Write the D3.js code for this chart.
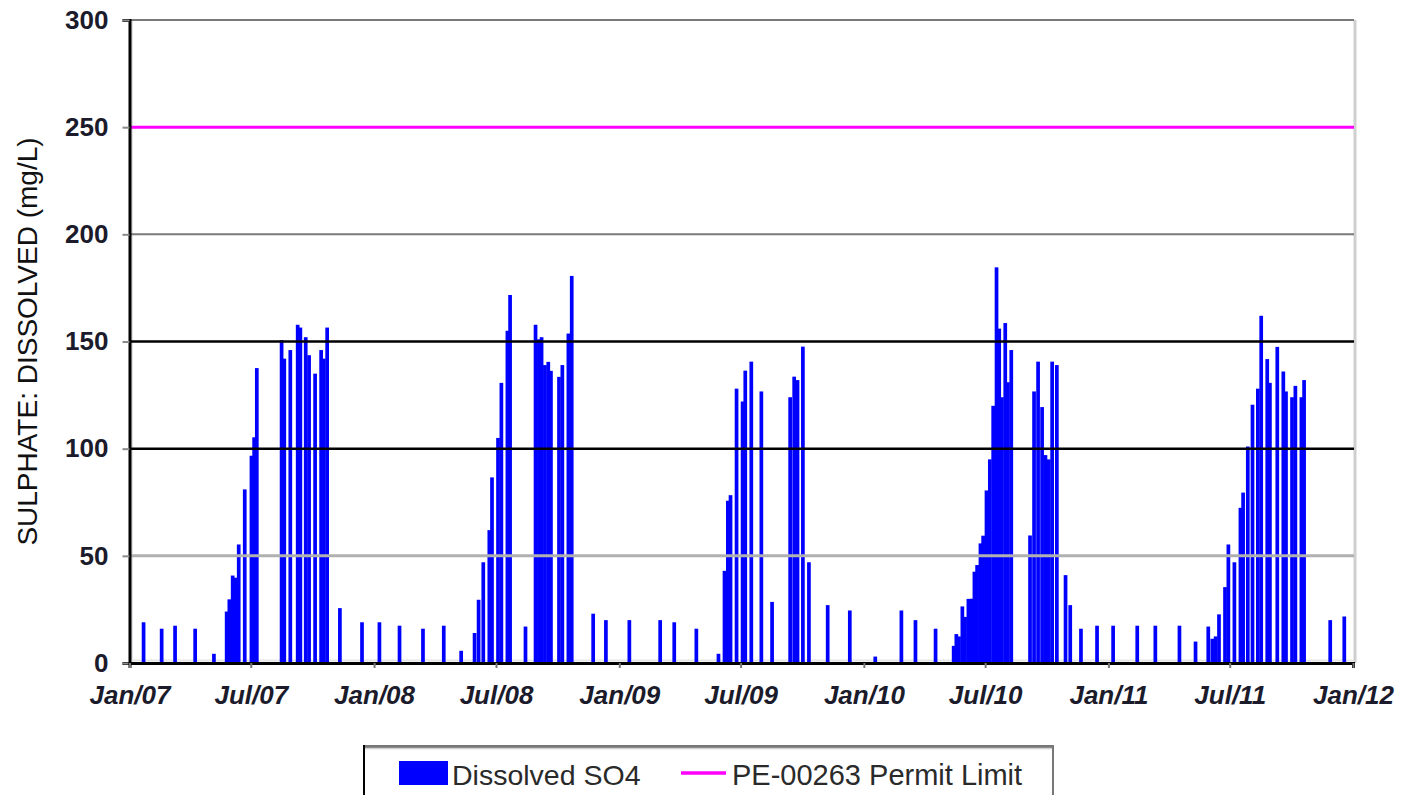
<!DOCTYPE html>
<html>
<head>
<meta charset="utf-8">
<script src="https://cdn.jsdelivr.net/npm/d3@7"></script>
<style>
body { margin: 0; background: #fff; }
svg { display: block; font-family: "Liberation Sans", Arial, sans-serif; }
</style>
</head>
<body>
<div id="chart"></div>
<script>
// sampling dates and dissolved sulphate (mg/L)
var sampleDates = [
  "2007-01-22","2007-02-18","2007-03-10","2007-04-09","2007-05-07","2007-05-26","2007-05-30","2007-06-04",
  "2007-06-08","2007-06-13","2007-06-22","2007-07-02","2007-07-06","2007-07-10","2007-08-16","2007-08-20",
  "2007-08-29","2007-09-09","2007-09-13","2007-09-21","2007-09-26","2007-10-05","2007-10-14","2007-10-18",
  "2007-10-23","2007-11-11","2007-12-14",
  "2008-01-09","2008-02-08","2008-03-14","2008-04-14","2008-05-10","2008-05-30","2008-06-05","2008-06-12",
  "2008-06-21","2008-06-25","2008-07-04","2008-07-09","2008-07-18","2008-07-22","2008-08-14","2008-08-29",
  "2008-09-03","2008-09-07","2008-09-12","2008-09-17","2008-09-21","2008-10-03","2008-10-08","2008-10-17",
  "2008-10-22","2008-11-23","2008-12-12",
  "2009-01-16","2009-03-03","2009-03-24","2009-04-26","2009-05-29","2009-06-07","2009-06-12","2009-06-16",
  "2009-06-25","2009-07-04","2009-07-08","2009-07-17","2009-08-01","2009-08-17","2009-09-13","2009-09-19",
  "2009-09-24","2009-10-02","2009-10-11","2009-11-08","2009-12-11",
  "2010-01-18","2010-02-26","2010-03-19","2010-04-18","2010-05-15","2010-05-19","2010-05-23","2010-05-28",
  "2010-06-01","2010-06-06","2010-06-11","2010-06-15","2010-06-19","2010-06-24","2010-06-28","2010-07-03",
  "2010-07-08","2010-07-13","2010-07-18","2010-07-22","2010-07-26","2010-07-31","2010-08-04","2010-08-09",
  "2010-09-06","2010-09-12","2010-09-18","2010-09-24","2010-09-29","2010-10-04","2010-10-09","2010-10-16",
  "2010-10-29","2010-11-05","2010-11-21","2010-12-15",
  "2011-01-08","2011-02-13","2011-03-12","2011-04-17","2011-05-11","2011-05-30","2011-06-05","2011-06-10",
  "2011-06-15","2011-06-24","2011-06-29","2011-07-08","2011-07-17","2011-07-21","2011-07-28","2011-08-04",
  "2011-08-12","2011-08-17","2011-08-26","2011-08-30","2011-09-10","2011-09-19","2011-09-23","2011-10-02",
  "2011-10-07","2011-10-16","2011-10-20","2011-11-28","2011-12-19"
];
var so4Values = [
  19, 16, 17.4, 16, 4.3, 24, 29.7, 40.8,
  39.8, 55.3, 81, 96.7, 105.3, 137.6, 150.6, 142,
  146, 157.8, 156.5, 152, 143.6, 135, 146, 142,
  156.5, 25.6, 19,
  19, 17.4, 16, 17.4, 5.7, 14, 29.5, 47,
  62, 86.6, 105, 130.7, 155, 171.7, 17, 157.8,
  151, 152, 139, 140.5, 136.3, 133.5, 139, 153.7,
  180.6, 23, 20,
  20, 20, 19, 16, 4.3, 43, 75.7, 78.3,
  128, 122, 136.4, 140.6, 126.7, 28.5, 124, 133.6,
  132, 147.6, 47, 27, 24.5,
  3, 24.5, 20, 16, 8, 13.5, 12.4, 26.4,
  21.5, 29.9, 30, 42.6, 45.7, 55.8, 59.4, 80.5,
  95, 120, 184.6, 156, 124, 158.6, 131, 146,
  59.5, 126.7, 140.6, 119.4, 97, 95, 140.6, 139,
  41, 27, 16, 17.4,
  17.4, 17.4, 17.4, 17.4, 10, 17, 11.3, 12.4,
  22.7, 35.4, 55.3, 47, 72.4, 79.5, 101, 120.5,
  128, 162, 141.8, 130.7, 147.5, 136, 126.7, 124,
  129.3, 124, 132, 20, 21.7
];
var permitLimit = 250;
var yTicks = [0, 50, 100, 150, 200, 250, 300];
var xTickDates = ["2007-01-01","2007-07-01","2008-01-01","2008-07-01","2009-01-01","2009-07-01",
                  "2010-01-01","2010-07-01","2011-01-01","2011-07-01","2012-01-01"];
var seriesNames = ["Dissolved SO4", "PE-00263 Permit Limit"];
var yTitle = "SULPHATE: DISSOLVED (mg/L)";

var parse = d3.timeParse("%Y-%m-%d");
var data = sampleDates.map(function(d, i) { return {date: parse(d), value: so4Values[i]}; });

var W = 1406, H = 795;
var margin = {top: 20, right: 53, bottom: 132, left: 129.5};
var width = W - margin.left - margin.right,
    height = H - margin.top - margin.bottom;

var svg = d3.select("#chart").append("svg")
    .attr("width", W)
    .attr("height", H);

var g = svg.append("g")
    .attr("transform", "translate(" + margin.left + "," + margin.top + ")");

var x = d3.scaleTime()
    .domain([parse("2007-01-01"), parse("2012-01-01")])
    .range([0, width]);

var y = d3.scaleLinear()
    .domain([0, 300])
    .range([height, 0]);

// plot frame: light grey inner edges, as in the scanned original
g.append("line")
    .attr("x1", width + 2).attr("x2", width + 2)
    .attr("y1", 0).attr("y2", height)
    .attr("stroke", "#cfcfcf").attr("stroke-width", 3);
g.append("line")
    .attr("x1", 2.5).attr("x2", 2.5)
    .attr("y1", 0).attr("y2", height)
    .attr("stroke", "#e2e2e2").attr("stroke-width", 2);
g.append("line")
    .attr("x1", 0).attr("x2", width)
    .attr("y1", height - 2.5).attr("y2", height - 2.5)
    .attr("stroke", "#e6e6e6").attr("stroke-width", 2);

// bars
var barW = 3.7;
g.selectAll(".bar")
    .data(data)
  .enter().append("rect")
    .attr("class", "bar")
    .attr("x", function(d) { return x(d.date) - barW / 2; })
    .attr("y", function(d) { return y(d.value); })
    .attr("width", barW)
    .attr("height", function(d) { return height - y(d.value); })
    .attr("fill", "#0000ff");

// gridlines (drawn over the bars, as in the original)
var gridStyle = {
  50: {c: "#b0b0b0", w: 3},
  100: {c: "#000", w: 2.5},
  150: {c: "#000", w: 2.5},
  200: {c: "#7a7a7a", w: 2},
  300: {c: "#7a7a7a", w: 2}
};
g.selectAll(".grid")
    .data(yTicks.filter(function(v) { return gridStyle[v]; }))
  .enter().append("line")
    .attr("class", "grid")
    .attr("x1", 0).attr("x2", width + 1)
    .attr("y1", function(d) { return y(d); })
    .attr("y2", function(d) { return y(d); })
    .attr("stroke", function(d) { return gridStyle[d].c; })
    .attr("stroke-width", function(d) { return gridStyle[d].w; });

// permit limit
g.append("line")
    .attr("x1", 0).attr("x2", width + 1)
    .attr("y1", y(permitLimit)).attr("y2", y(permitLimit))
    .attr("stroke", "#ff00ff").attr("stroke-width", 3);

// y axis
var yAxis = d3.axisLeft(y).tickValues(yTicks).tickSize(7).tickPadding(14);
var gy = g.append("g").attr("class", "y axis").call(yAxis);
gy.select(".domain").attr("stroke", "#000").attr("stroke-width", 3);
gy.selectAll(".tick line").attr("stroke", "#8a8a8a").attr("stroke-width", 2);
gy.selectAll("text")
    .style("font-size", "26px")
    .style("font-weight", "bold")
    .attr("fill", "#1b1b2b");

// x axis
var xAxis = d3.axisBottom(x)
    .tickValues(xTickDates.map(parse))
    .tickFormat(d3.timeFormat("%b/%y"))
    .tickSize(5);
var gx = g.append("g").attr("class", "x axis")
    .attr("transform", "translate(0," + height + ")")
    .call(xAxis);
gx.select(".domain").attr("stroke", "#000").attr("stroke-width", 3);
gx.selectAll(".tick line").attr("stroke", "#777").attr("stroke-width", 2);
gx.selectAll("text")
    .attr("y", 23)
    .style("font-size", "26px")
    .style("font-weight", "bold")
    .style("font-style", "italic")
    .attr("fill", "#1b1b2b");

// y title
svg.append("text")
    .attr("transform", "translate(37," + (margin.top + height / 2) + ") rotate(-90)")
    .attr("text-anchor", "middle")
    .style("font-size", "28px")
    .attr("fill", "#111")
    .text(yTitle);

// legend
var lg = svg.append("g").attr("transform", "translate(363,745)");
lg.append("rect").attr("x", 0).attr("y", 0).attr("width", 690).attr("height", 70).attr("fill", "#fff");
lg.append("line").attr("x1", 0).attr("x2", 691).attr("y1", 1.5).attr("y2", 1.5)
    .attr("stroke", "#777").attr("stroke-width", 3);
lg.append("line").attr("x1", 0).attr("x2", 691).attr("y1", 3.5).attr("y2", 3.5)
    .attr("stroke", "#d0d0d0").attr("stroke-width", 1.5);
lg.append("line").attr("x1", 1).attr("x2", 1).attr("y1", 0).attr("y2", 70)
    .attr("stroke", "#000").attr("stroke-width", 2);
lg.append("line").attr("x1", 690).attr("x2", 690).attr("y1", 0).attr("y2", 70)
    .attr("stroke", "#777").attr("stroke-width", 2);

lg.append("rect").attr("x", 36).attr("y", 16).attr("width", 49).attr("height", 24).attr("fill", "#0000ff");
lg.append("text").attr("x", 89).attr("y", 40)
    .style("font-size", "28.5px").attr("fill", "#2a2a2a").text(seriesNames[0]);
lg.append("line").attr("x1", 318).attr("x2", 363).attr("y1", 28).attr("y2", 28)
    .attr("stroke", "#ff00ff").attr("stroke-width", 3.5);
lg.append("text").attr("x", 369).attr("y", 40)
    .style("font-size", "29px").attr("fill", "#2a2a2a").text(seriesNames[1]);
</script>
</body>
</html>
